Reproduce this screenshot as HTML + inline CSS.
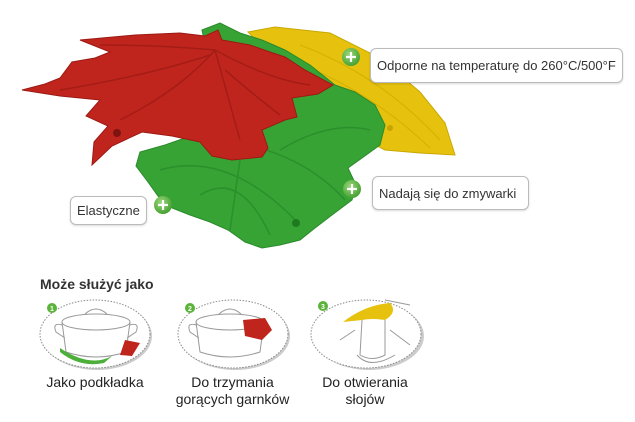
<!DOCTYPE html>
<html><head><meta charset="utf-8"><style>
html,body{margin:0;padding:0;background:#fff;width:635px;height:422px;overflow:hidden;font-family:"Liberation Sans",sans-serif;}
.box{position:absolute;background:#fff;border:1px solid #bbb;border-radius:6px;font-size:13px;color:#333;padding:0 6px;box-sizing:border-box;display:flex;align-items:center;white-space:nowrap;box-shadow:0 1px 2px rgba(0,0,0,.15)}
.lbl{position:absolute;font-size:14px;color:#222;text-align:center;line-height:17px}
</style></head><body>
<svg width="635" height="422" style="position:absolute;left:0;top:0">
<defs>
<radialGradient id="pl" cx="40%" cy="35%" r="70%"><stop offset="0" stop-color="#9bd67a"/><stop offset="1" stop-color="#3f9e2c"/></radialGradient>
</defs>
<!-- yellow -->
<polygon points="248,32 275,27 330,33 380,58 420,92 445,123 455,155 420,153 385,150 345,130" fill="#e6c20f" stroke="#c9a800" stroke-width="1"/>
<path d="M300,45 Q380,75 440,140 M290,60 Q370,90 430,148" stroke="#d4b000" fill="none"/>
<circle cx="390" cy="128" r="3" fill="#c9a300"/>
<!-- green -->
<polygon points="202,30 220,23 240,33 262,40 285,50 310,65 335,85 355,92 375,105 385,125 380,145 362,158 348,168 356,185 352,200 332,215 315,228 300,240 280,245 262,248 245,242 228,230 210,222 190,215 172,208 158,196 148,182 136,166 140,152 165,145 185,138 200,128 215,90" fill="#37a335" stroke="#2a8a2a"/>
<path d="M160,170 Q230,150 300,225 M220,140 Q300,150 345,200 M240,160 L230,230 M280,150 Q330,120 370,130 M200,195 Q240,170 270,235" stroke="#2b8f2b" fill="none" stroke-width="1.5"/>
<circle cx="296" cy="223" r="4" fill="#1f7a1f"/>
<!-- red -->
<polygon points="22,90 45,84 60,78 72,62 95,58 110,52 80,40 135,35 180,33 205,36 218,30 222,40 250,45 270,52 285,57 305,70 333,85 318,94 292,98 297,117 285,120 262,130 268,148 262,157 232,160 212,156 200,142 172,136 142,132 112,146 92,165 94,142 108,126 86,116 100,100 60,96" fill="#c0251d" stroke="#9c1a14"/>
<path d="M60,90 Q150,75 210,55 M120,120 Q180,90 215,50 M215,50 L240,140 M215,50 Q270,80 310,85 M215,50 Q160,45 100,45 M225,70 Q260,100 280,115" stroke="#a31d16" fill="none" stroke-width="1.5"/>
<circle cx="117" cy="133" r="4" fill="#7d1410"/>
<!-- plus icons -->
<g fill="url(#pl)"><circle cx="351" cy="57" r="9"/><circle cx="352" cy="189" r="9"/><circle cx="163" cy="205" r="9"/></g>
<g stroke="#fff" stroke-width="2.2"><path d="M346,57h10M351,52v10M347,189h10M352,184v10M158,205h10M163,200v10"/></g>
<!-- ovals -->
<g fill="#fff" stroke="#888" stroke-dasharray="1.5,1.5">
<ellipse cx="97" cy="336" rx="55" ry="34" fill="#ccc" stroke="none"/>
<ellipse cx="95" cy="334" rx="55" ry="34"/>
<ellipse cx="235" cy="336" rx="55" ry="34" fill="#ccc" stroke="none"/>
<ellipse cx="233" cy="334" rx="55" ry="34"/>
<ellipse cx="369" cy="336" rx="55" ry="34" fill="#ccc" stroke="none"/>
<ellipse cx="366" cy="334" rx="55" ry="34"/>
</g>
<!-- pots -->
<g fill="none" stroke="#999" stroke-width="1">
<ellipse cx="96" cy="322" rx="34" ry="8"/>
<path d="M62,322 L66,352 Q96,362 126,352 L130,322 M85,314 Q96,304 107,314 M62,325 Q52,322 56,332 L65,338 M130,325 Q140,322 136,332 L127,338"/>
<ellipse cx="230" cy="322" rx="34" ry="8"/>
<path d="M196,322 L200,352 Q230,362 260,352 L264,322 M219,314 Q230,304 241,314 M196,325 Q186,322 190,332 L199,338"/>
<path d="M362,320 L360,355 Q372,362 385,355 L385,320 M357,355 Q370,370 395,355 M385,300 L410,305 M355,330 L340,340 M390,330 L410,345"/>
</g>
<path d="M60,348 Q90,368 112,356 L104,363 Q80,368 60,352Z" fill="#4caf3a"/>
<path d="M125,340 L140,343 L132,356 L120,355Z" fill="#c0251d"/>
<path d="M243,320 L265,318 L272,330 L262,340 L245,336Z" fill="#c0251d"/>
<path d="M343,322 Q365,305 390,303 Q398,312 385,320 Q372,318 362,320Z" fill="#e6c20f"/>
<g font-family="Liberation Sans" font-size="7" font-weight="bold" fill="#fff">
<circle cx="52" cy="308" r="5" fill="#5bb33a"/><text x="50" y="311">1</text>
<circle cx="190" cy="308" r="5" fill="#5bb33a"/><text x="188" y="311">2</text>
<circle cx="323" cy="306" r="5" fill="#5bb33a"/><text x="321" y="309">3</text>
</g>
</svg>
<div class="box" style="left:370px;top:48px;width:253px;height:35px">Odporne na temperaturę do 260°C/500°F</div>
<div class="box" style="left:372px;top:176px;width:157px;height:34px">Nadają się do zmywarki</div>
<div class="box" style="left:70px;top:196px;width:77px;height:29px">Elastyczne</div>
<div style="position:absolute;left:40px;top:276px;font-size:14px;font-weight:bold;color:#333">Może służyć jako</div>
<div class="lbl" style="left:40px;top:374px;width:110px">Jako podkładka</div>
<div class="lbl" style="left:170px;top:374px;width:125px">Do trzymania<br>gorących garnków</div>
<div class="lbl" style="left:310px;top:374px;width:110px">Do otwierania<br>słojów</div>
</body></html>
